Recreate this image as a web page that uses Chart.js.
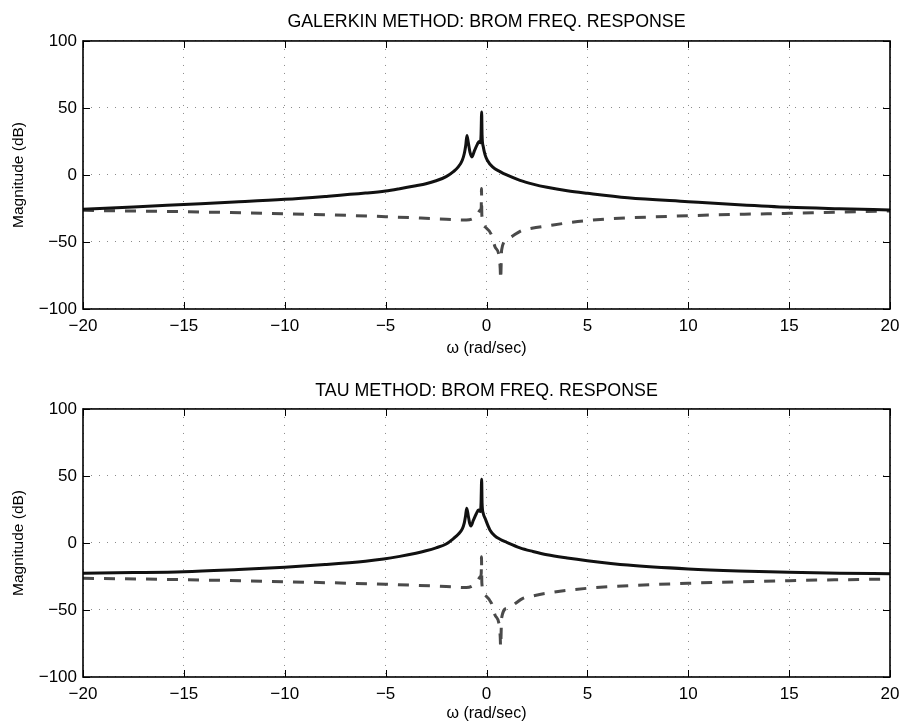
<!DOCTYPE html>
<html>
<head>
<meta charset="utf-8">
<script src="https://cdn.jsdelivr.net/npm/chart.js@4"></script>
<style>
  html, body { margin: 0; padding: 0; background: #fff; }
  canvas { display: block; }
</style>
</head>
<body>
<canvas id="c1" width="901" height="362"></canvas>
<canvas id="c2" width="901" height="362"></canvas>
<script>
// ---- tick labels ----
const xTicks = [-20, -15, -10, -5, 0, 5, 10, 15, 20];
const yTicks = [-100, -50, 0, 50, 100];

// ---- Galerkin (top) ----
const galSolidX = [-20, -17.5, -15, -12.5, -10, -8, -6, -5, -4.3, -3.5, -3, -2.5, -2, -1.64, -1.4, -1.2, -1.1, -1.03, -0.97, -0.9, -0.82, -0.72, -0.6, -0.45, -0.37, -0.3, -0.27, -0.24, -0.22, -0.16, -0.07, 0.04, 0.3, 0.67, 1, 1.66, 2.3, 3, 4, 5, 7, 10, 12.5, 15, 17.5, 20];
const galSolidY = [-25.5, -23.8, -22, -20.2, -18.2, -16, -13.5, -11.9, -10.2, -8, -6.5, -4.3, -1.2, 2.5, 6, 11, 16, 22, 29.5, 24, 17, 13.5, 18, 23, 25, 24, 30, 47, 30, 21, 15, 11, 6, 2.5, 0, -4, -6.8, -9.2, -11.8, -13.7, -17, -19.9, -22.2, -24.1, -25.2, -26.1];
const galDashX = [-20, -15, -10, -5, -2, -1, -0.52, -0.3, -0.26, -0.25, -0.23, -0.08, 0.25, 0.42, 0.63, 0.68, 0.7, 0.75, 1, 1.25, 1.8, 2.15, 2.98, 5, 10, 15, 20];
const galDashY = [-26.4, -27.4, -28.9, -31.1, -33, -33.6, -31, -26, -24, -10, -30, -38.6, -44.8, -53.5, -61, -70, -78, -56, -48.5, -46, -41, -40, -38, -34, -30.4, -28.6, -26.9];

// ---- Tau (bottom) ----
const tauSolidX = [-20, -17.5, -15, -12.5, -10, -8, -6, -5.1, -4.3, -3.5, -3, -2.5, -2, -1.64, -1.4, -1.2, -1.1, -1.04, -0.98, -0.9, -0.84, -0.77, -0.65, -0.5, -0.4, -0.3, -0.27, -0.24, -0.22, -0.16, -0.07, 0.17, 0.4, 0.67, 1, 1.66, 2.3, 3, 4, 5, 7, 10, 12.5, 15, 17.5, 20];
const tauSolidY = [-22.6, -22.1, -21.4, -19.9, -18.1, -16.1, -13.6, -12, -10, -7.6, -5.8, -3.6, -0.8, 3.3, 6.5, 10.5, 15, 20, 26, 20, 15, 12.7, 17, 22, 24.6, 23.5, 30, 47.5, 30, 22, 18.4, 9.7, 5.5, 2.8, 0.5, -3.6, -6.3, -8.8, -11.2, -13.2, -16.5, -19.4, -20.9, -21.9, -22.5, -22.9];
const tauDashX = [-20, -15, -10, -5, -2, -1, -0.52, -0.3, -0.26, -0.25, -0.23, -0.08, 0.25, 0.42, 0.63, 0.68, 0.7, 0.75, 1, 1.25, 1.8, 2.15, 2.98, 5, 10, 15, 20];
const tauDashY = [-26.3, -27.4, -28.9, -30.8, -32.5, -33.3, -30, -25, -22.6, -10.2, -30, -38.8, -45, -53.7, -61.2, -70, -77.4, -56, -48.7, -47, -41.3, -40, -37.5, -33.8, -30.1, -28.1, -26.9];

const FONT = '"Liberation Sans", Arial, Helvetica, sans-serif';

function pts(xs, ys) { return xs.map((x, i) => ({ x: x, y: ys[i] })); }
function fmt(v) { return v < 0 ? '\u2212' + Math.abs(v) : String(v); }

const frameTicks = {
  id: 'frameTicks',
  afterDraw(chart) {
    const ctx = chart.ctx;
    const a = chart.chartArea;
    const xs = chart.scales.x, ys = chart.scales.y;
    const L = 7;
    ctx.save();
    ctx.strokeStyle = '#000';
    ctx.lineWidth = 1;
    ctx.beginPath();
    xTicks.forEach(v => {
      const px = Math.round(xs.getPixelForValue(v)) + 0.5;
      ctx.moveTo(px, a.bottom); ctx.lineTo(px, a.bottom - L);
      ctx.moveTo(px, a.top); ctx.lineTo(px, a.top + L);
    });
    yTicks.forEach(v => {
      const py = Math.round(ys.getPixelForValue(v)) + 0.5;
      ctx.moveTo(a.left, py); ctx.lineTo(a.left + L, py);
      ctx.moveTo(a.right, py); ctx.lineTo(a.right - L, py);
    });
    ctx.stroke();
    ctx.lineWidth = 1.6;
    ctx.strokeRect(a.left, a.top, a.right - a.left, a.bottom - a.top);
    ctx.restore();
  }
};

function makeChart(id, title, solid, dashed, cfg) {
  new Chart(document.getElementById(id), {
    type: 'line',
    data: {
      datasets: [
        { data: solid, borderColor: '#111', borderWidth: 3, pointRadius: 0, cubicInterpolationMode: 'monotone', fill: false },
        { data: dashed, borderColor: '#4a4a4a', borderWidth: 3, borderDash: [11, 10], pointRadius: 0, cubicInterpolationMode: 'monotone', fill: false }
      ]
    },
    options: {
      responsive: false,
      animation: false,
      devicePixelRatio: 1,
      layout: { padding: { left: 0, right: 11, top: 0, bottom: cfg.padBottom } },
      plugins: {
        legend: { display: false },
        tooltip: { enabled: false },
        title: {
          display: true, text: title, color: '#000', fullSize: false,
          font: { family: FONT, size: 17.8, weight: 'normal', lineHeight: 1.2 },
          padding: { top: cfg.titleTop, bottom: cfg.titleBottom }
        }
      },
      scales: {
        x: {
          type: 'linear', min: -20, max: 20,
          afterBuildTicks: s => { s.ticks = xTicks.map(v => ({ value: v })); },
          afterFit: s => { s.height = cfg.xHeight; s.paddingLeft = 0; s.paddingRight = 0; },
          ticks: { callback: v => fmt(v), color: '#000', font: { family: FONT, size: 17 }, padding: 7, maxRotation: 0, autoSkip: false },
          grid: { color: '#8a8a8a', lineWidth: 1, drawTicks: false },
          border: { display: false, dash: [1, 7] },
          title: { display: true, text: '\u03c9 (rad/sec)', color: '#000', font: { family: FONT, size: 16 }, padding: { top: 0, bottom: 1 } }
        },
        y: {
          min: -100, max: 100,
          afterBuildTicks: s => { s.ticks = yTicks.map(v => ({ value: v })); },
          afterFit: s => { s.width = 83; s.paddingTop = 0; s.paddingBottom = 0; },
          ticks: { callback: v => fmt(v), color: '#000', font: { family: FONT, size: 17 }, padding: 6 },
          grid: { color: '#8a8a8a', lineWidth: 1, drawTicks: false },
          border: { display: false, dash: [1, 7] },
          title: { display: true, text: 'Magnitude (dB)', color: '#000', font: { family: FONT, size: 15.5 }, padding: { top: 9, bottom: 0 } }
        }
      }
    },
    plugins: [frameTicks]
  });
}

makeChart('c1', 'GALERKIN METHOD: BROM FREQ. RESPONSE', pts(galSolidX, galSolidY), pts(galDashX, galDashY),
  { padBottom: 3, xHeight: 50, titleTop: 11.3, titleBottom: 8.3 });
makeChart('c2', 'TAU METHOD: BROM FREQ. RESPONSE', pts(tauSolidX, tauSolidY), pts(tauDashX, tauDashY),
  { padBottom: 0, xHeight: 47, titleTop: 18.3, titleBottom: 7.3 });
</script>
</body>
</html>
